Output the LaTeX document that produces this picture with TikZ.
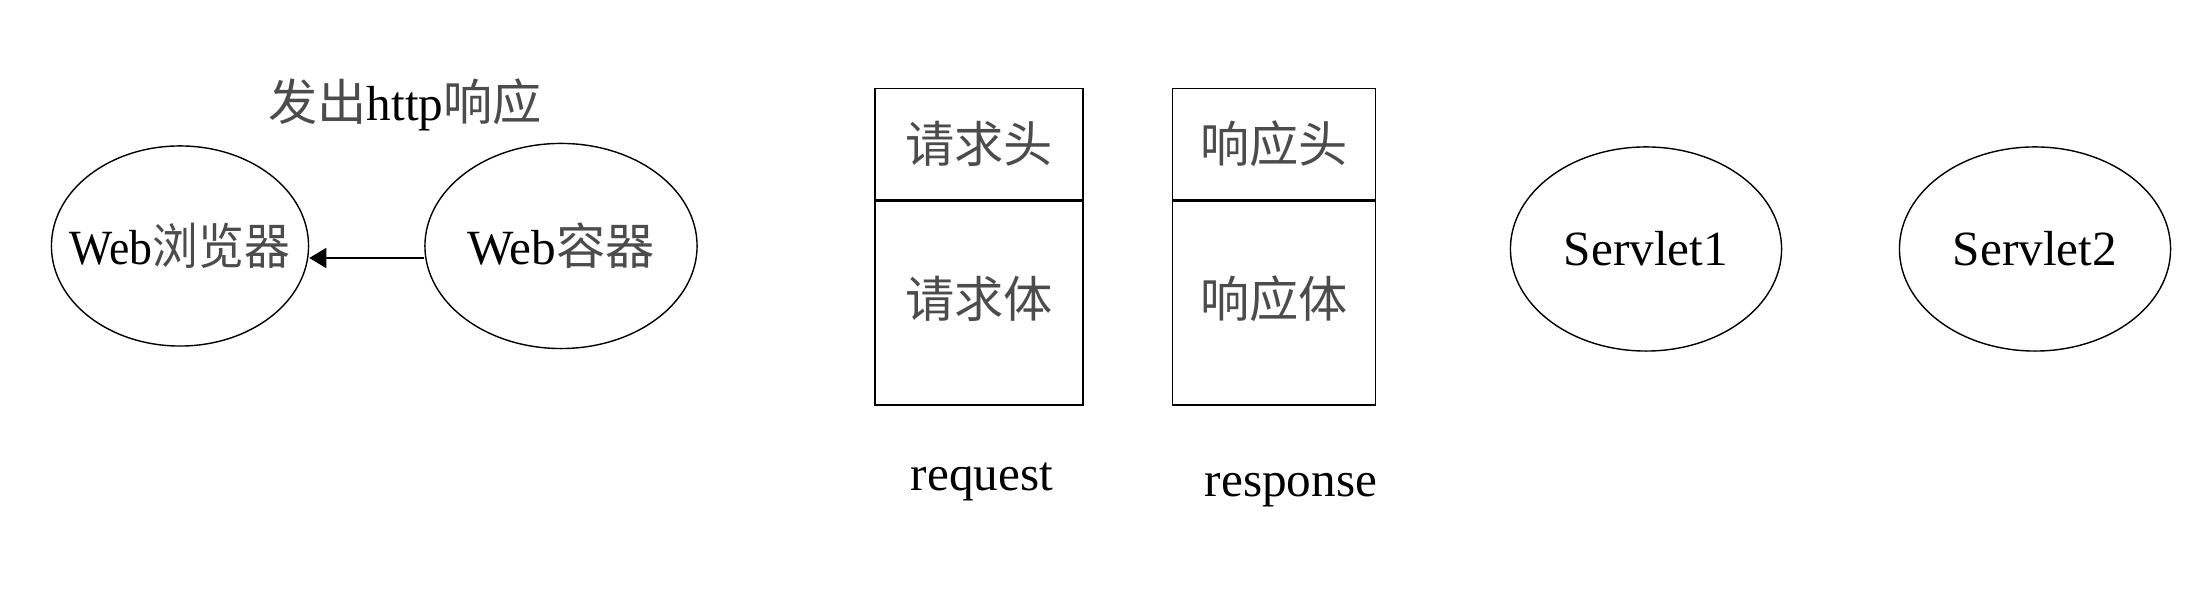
\documentclass[tikz,border=0pt]{standalone}
\usepackage{fontspec}
\setmainfont{Liberation Serif}
\newfontfamily\cjk{Noto Sans CJK SC}
\usepackage{tikz}
\usetikzlibrary{positioning}
\usetikzlibrary{shapes.geometric,arrows.meta}
\newcommand{\zh}[1]{{\cjk\color{black!70}#1}}
\tikzset{
  blob/.style={draw,ellipse,inner ysep=0pt,inner xsep=-0.45cm,minimum width=2.64cm,minimum height=2.02cm},
  part/.style={draw,rectangle,inner sep=0pt,minimum width=2.08cm},
  lbl/.style={font=\fontsize{14}{16}\selectfont}
}

\begin{document}
\begin{tikzpicture}[x=0.01cm,y=-0.01cm,lbl]
  \useasboundingbox (0,0) rectangle (2200,592);
  % container sends the response back to the browser
  \node[blob,minimum width=2.57cm,minimum height=2.0cm] (browser) at (180,246) {\scalebox{0.93}[1]{Web\zh{浏览器}}};
  \node[blob,minimum width=2.72cm,minimum height=2.05cm] (cont) at (561,246) {Web\zh{容器}};
  \draw[-{Triangle[length=0.17cm,width=0.2cm]}] ([yshift=-0.12cm]cont.west) -- ([yshift=-0.12cm]browser.east);
  \node (send) at (405,105) {\zh{发出}http\zh{响应}};
  % request / response objects: head over body
  \node[part,minimum height=1.11cm] (reqhead) at (979,144) {};
  \node[part,minimum height=2.04cm,below=0pt of reqhead] (reqbody) {};
  \node at (reqhead) {\zh{请求头}};
  \node at ([yshift=0.04cm]reqbody) {\zh{请求体}};
  \node (req) at (982,482) {request};
  \node[part,minimum height=1.11cm,minimum width=2.03cm] (reshead) at (1274,144) {};
  \node[part,minimum height=2.04cm,minimum width=2.03cm,below=0pt of reshead] (resbody) {};
  \node at (reshead) {\zh{响应头}};
  \node at ([yshift=0.04cm]resbody) {\zh{响应体}};
  \node (res) at (1291,490) {response};
  % servlets
  \node[blob,minimum width=2.71cm,minimum height=2.04cm] (sv1) at (1646,249) {Servlet1};
  \node[blob,minimum width=2.71cm,minimum height=2.04cm] (sv2) at (2035,249) {Servlet2};
\end{tikzpicture}
\end{document}
